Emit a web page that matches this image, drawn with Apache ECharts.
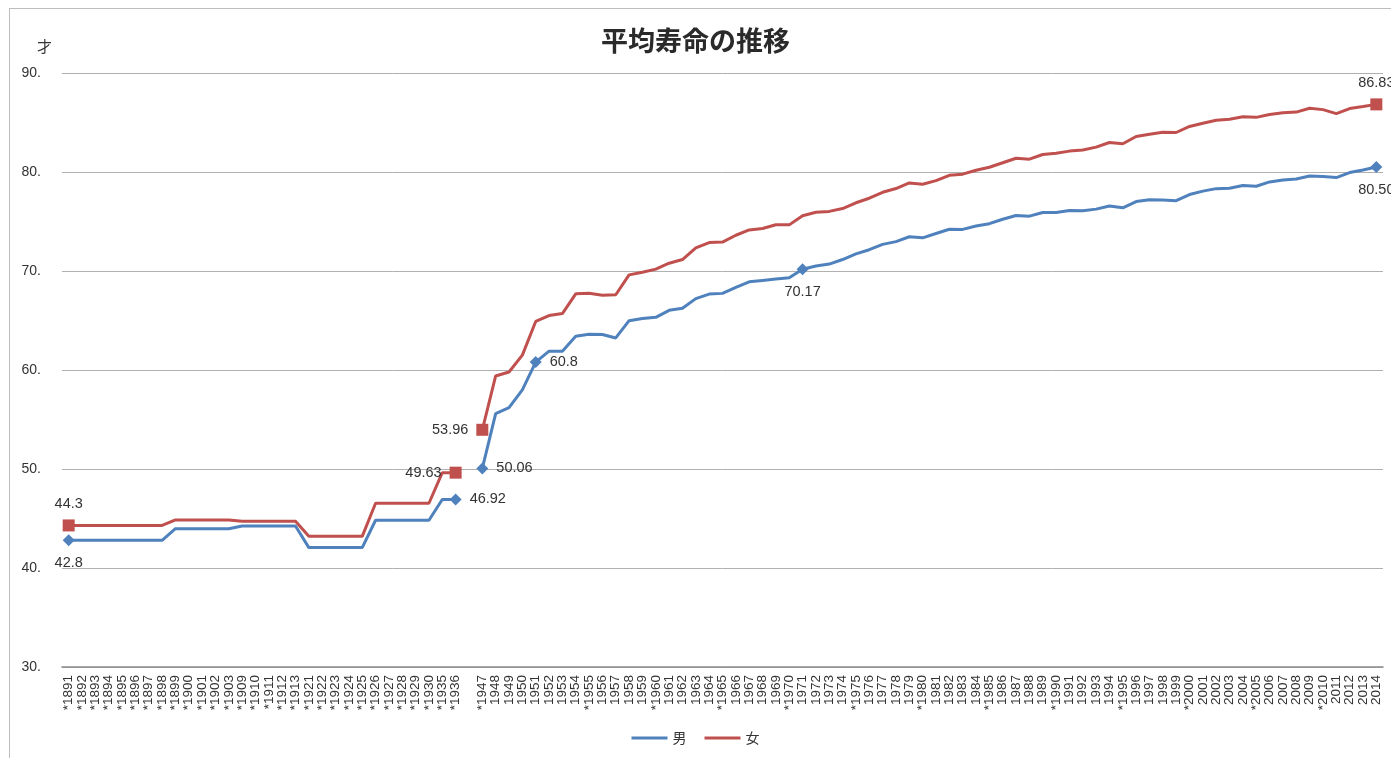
<!DOCTYPE html>
<html><head><meta charset="utf-8">
<script src="https://cdn.jsdelivr.net/npm/echarts@6/dist/echarts.min.js"></script>
<style>
html,body{margin:0;padding:0;background:#fff;overflow:hidden}
#frame{position:absolute;left:9px;top:8px;width:1500px;height:900px;border:1px solid #bdbdbd;box-sizing:border-box}
#c{position:absolute;left:0;top:0;width:1391px;height:758px}
</style></head>
<body><div id="frame"></div><div id="c"></div>
<script>
const years = ['*1891','*1892','*1893','*1894','*1895','*1896','*1897','*1898','*1899','*1900','*1901','*1902','*1903','*1909','*1910','*1911','*1912','*1913','*1921','*1922','*1923','*1924','*1925','*1926','*1927','*1928','*1929','*1930','*1935','*1936','',
'*1947','1948','1949','1950','1951','1952','1953','1954','*1955','1956','1957','1958','1959','*1960','1961','1962','1963','1964','*1965','1966','1967','1968','1969','*1970','1971','1972','1973','1974','*1975','1976','1977','1978','1979','*1980','1981','1982','1983','1984','*1985','1986','1987','1988','1989','*1990','1991','1992','1993','1994','*1995','1996','1997','1998','1999','*2000','2001','2002','2003','2004','*2005','2006','2007','2008','2009','*2010','2011','2012','2013','2014'];

const male = [42.8,42.8,42.8,42.8,42.8,42.8,42.8,42.8,43.97,43.97,43.97,43.97,43.97,44.25,44.25,44.25,44.25,44.25,42.06,42.06,42.06,42.06,42.06,44.82,44.82,44.82,44.82,44.82,46.92,46.92,null,
50.06,55.6,56.2,58.0,60.8,61.9,61.9,63.41,63.60,63.59,63.24,64.98,65.21,65.32,66.03,66.23,67.21,67.67,67.74,68.35,68.91,69.05,69.18,69.31,70.17,70.50,70.70,71.16,71.73,72.15,72.69,72.97,73.46,73.35,73.79,74.22,74.20,74.54,74.78,75.23,75.61,75.54,75.91,75.92,76.11,76.09,76.25,76.57,76.38,77.01,77.19,77.16,77.10,77.72,78.07,78.32,78.36,78.64,78.56,79.00,79.19,79.29,79.59,79.55,79.44,79.94,80.21,80.50];

const female = [44.3,44.3,44.3,44.3,44.3,44.3,44.3,44.3,44.85,44.85,44.85,44.85,44.85,44.73,44.73,44.73,44.73,44.73,43.20,43.20,43.20,43.20,43.20,46.54,46.54,46.54,46.54,46.54,49.63,49.63,null,
53.96,59.4,59.8,61.5,64.9,65.5,65.7,67.69,67.75,67.54,67.60,69.61,69.88,70.19,70.79,71.16,72.34,72.87,72.92,73.61,74.15,74.30,74.67,74.66,75.58,75.94,76.02,76.31,76.89,77.35,77.95,78.33,78.89,78.76,79.13,79.66,79.78,80.18,80.48,80.93,81.39,81.30,81.77,81.90,82.11,82.22,82.51,82.98,82.85,83.59,83.82,84.01,83.99,84.60,84.93,85.23,85.33,85.59,85.52,85.81,85.99,86.05,86.44,86.30,85.90,86.41,86.61,86.83];

// labelled points: category -> shown text
const maleLabels = {'*1891':'42.8','*1936':'46.92','*1947':'50.06','1951':'60.8','1971':'70.17','2014':'80.50'};
const femaleLabels = {'*1891':'44.3','*1936':'49.63','*1947':'53.96','2014':'86.83'};
const yTicks = [30,40,50,60,70,80,90];

const malePos = {'*1891':'bottom','*1936':'right','*1947':'right','1951':'right','1971':'bottom','2014':'bottom'};
const femalePos = {'*1891':'top','*1936':'left','*1947':'left','2014':'top'};

function build(values, labels, posMap, symbol, size){
  return values.map((v,i)=>{
    const k = years[i];
    if (v !== null && labels[k] !== undefined) {
      return {value:v, symbol:symbol, symbolSize:size,
        label:{show:true, position:posMap[k], distance:posMap[k]==='bottom'?9:8, formatter:labels[k]}};
    }
    return {value:v};
  });
}

const chart = echarts.init(document.getElementById('c'));
chart.setOption({
  animation:false,
  title:{text:'平均寿命の推移', left:'center', top:22,
    textStyle:{fontFamily:'Noto Sans CJK JP', fontSize:27, fontWeight:'bold', color:'#2a2a2a'}},
  graphic:[{type:'text', left:37, top:39, style:{text:'才', fontFamily:'Noto Sans CJK JP', fontSize:15, fill:'#333'}}],
  legend:{bottom:8, left:'center', itemWidth:36, itemHeight:3, icon:'rect', itemGap:18,
    textStyle:{fontFamily:'Noto Sans CJK JP', fontSize:14, color:'#333'},
    data:['男','女']},
  grid:{left:62, right:8, top:73, bottom:91},
  xAxis:{type:'category', data:years, boundaryGap:true,
    axisLine:{lineStyle:{color:'#8c8c8c', width:1.5}}, axisTick:{show:false},
    axisLabel:{interval:0, rotate:90, margin:8, fontSize:13.5, color:'#333', fontFamily:'Liberation Sans'}},
  yAxis:{type:'value', min:30, max:90, interval:10,
    axisLine:{show:false}, axisTick:{show:false},
    axisLabel:{margin:21, fontSize:14, color:'#333', fontFamily:'Liberation Sans',
      formatter:v=> yTicks.includes(v) ? v + '.' : ''},
    splitLine:{lineStyle:{color:'#b0b0b0', width:1}}},
  series:[
    {name:'男', type:'line', data:build(male, maleLabels, malePos, 'diamond', 12),
      symbol:'none', connectNulls:false, color:'#4f81bd',
      lineStyle:{width:3, color:'#4f81bd'}, itemStyle:{color:'#4f81bd'},
      label:{fontSize:14.5, color:'#333', fontFamily:'Liberation Sans'}},
    {name:'女', type:'line', data:build(female, femaleLabels, femalePos, 'rect', 12),
      symbol:'none', connectNulls:false, color:'#c0504d',
      lineStyle:{width:3, color:'#c0504d'}, itemStyle:{color:'#c0504d'},
      label:{fontSize:14.5, color:'#333', fontFamily:'Liberation Sans'}}
  ]
});
</script></body></html>
